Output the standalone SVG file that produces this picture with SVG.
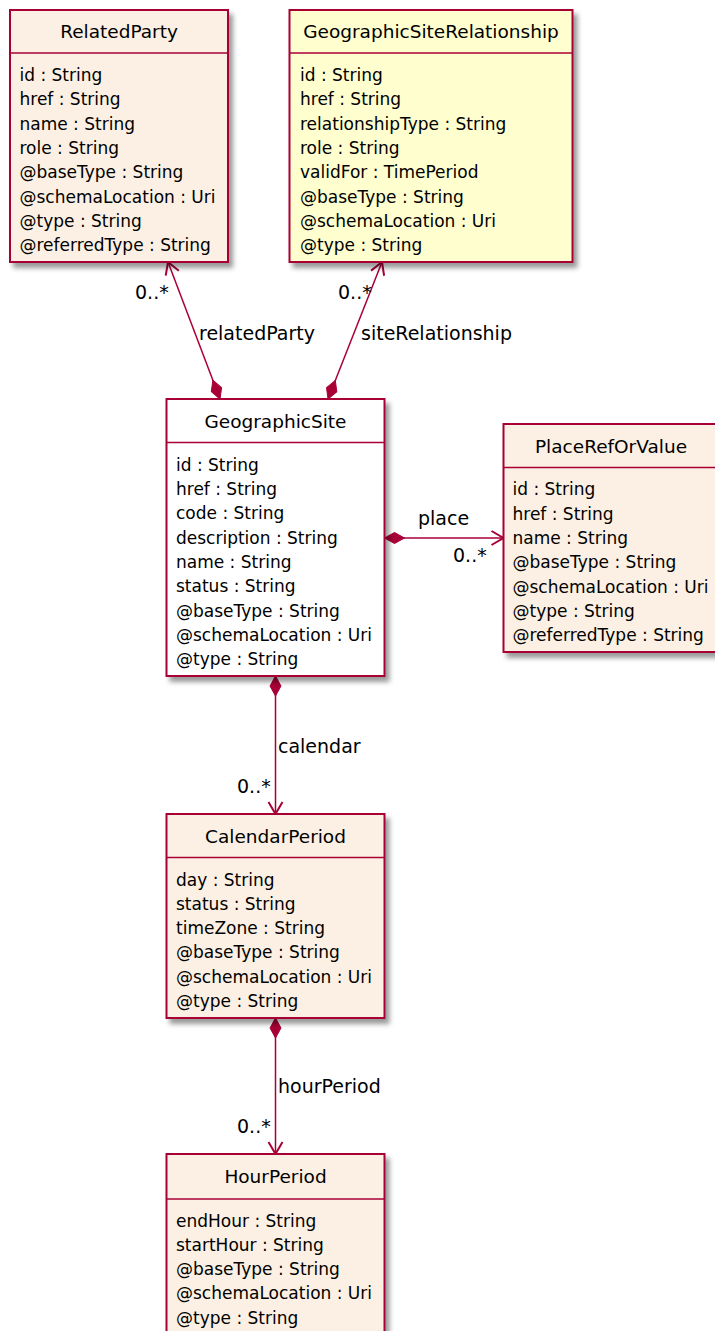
<svg xmlns="http://www.w3.org/2000/svg" width="715" height="1331" viewBox="0 0 715 1331">
<defs>
<filter id="sh" x="-10%" y="-10%" width="130%" height="130%">
<feDropShadow dx="4" dy="5" stdDeviation="2.5" flood-color="#000" flood-opacity="0.4"/>
</filter>
<marker id="dia" markerUnits="userSpaceOnUse" orient="auto" markerWidth="24" markerHeight="14" refX="0" refY="7" viewBox="0 0 24 14" overflow="visible">
<path d="M0,7 L10,1.5 L20,7 L10,12.5 Z" fill="#A80036" stroke="#A80036" stroke-width="1"/>
</marker>
<marker id="arr" markerUnits="userSpaceOnUse" orient="auto" markerWidth="20" markerHeight="20" refX="0" refY="0" viewBox="-15 -10 20 20" overflow="visible">
<path d="M-12,-7 L0,0 L-12,7" fill="none" stroke="#A80036" stroke-width="2"/>
</marker>
<style>
.box{stroke:#A80036;stroke-width:2;filter:url(#sh)}
.beige{fill:#FBF0E3}
.yellow{fill:#FEFECE}
.white{fill:#FFFFFF}
.div{stroke:#A80036;stroke-width:1.5}
.title{font-family:"DejaVu Sans",sans-serif;font-size:18.5px;fill:#000;text-anchor:middle}
.attr{font-family:"DejaVu Sans",sans-serif;font-size:17px;fill:#000}
.lbl{font-family:"DejaVu Sans",sans-serif;font-size:19px;fill:#000}
.con{stroke:#A80036;stroke-width:1.5;fill:none;marker-start:url(#dia);marker-end:url(#arr)}
</style>
</defs>

<g id="connectors">
<path class="con" d="M220,399 L168,262"/>
<path class="con" d="M328,399 L382,262"/>
<path class="con" d="M384.5,538 L503.5,538"/>
<path class="con" d="M275.5,676 L275.5,814"/>
<path class="con" d="M275.5,1018 L275.5,1154"/>
<text class="lbl" x="135" y="299">0..*</text>
<text class="lbl" x="199" y="340">relatedParty</text>
<text class="lbl" x="338" y="299">0..*</text>
<text class="lbl" x="361" y="340">siteRelationship</text>
<text class="lbl" x="418" y="525">place</text>
<text class="lbl" x="453" y="561.5">0..*</text>
<text class="lbl" x="278" y="752.5">calendar</text>
<text class="lbl" x="237" y="793">0..*</text>
<text class="lbl" x="278" y="1093">hourPeriod</text>
<text class="lbl" x="237" y="1133">0..*</text>
</g>

<g id="RelatedParty">
<rect class="box beige" x="10" y="10" width="218" height="252"/>
<line class="div" x1="10" y1="53" x2="228" y2="53"/>
<text class="title" x="119" y="38">RelatedParty</text>
<text class="attr" x="19.5" y="81">id : String</text>
<text class="attr" x="19.5" y="105.3">href : String</text>
<text class="attr" x="19.5" y="129.6">name : String</text>
<text class="attr" x="19.5" y="153.9">role : String</text>
<text class="attr" x="19.5" y="178.2">@baseType : String</text>
<text class="attr" x="19.5" y="202.5">@schemaLocation : Uri</text>
<text class="attr" x="19.5" y="226.8">@type : String</text>
<text class="attr" x="19.5" y="251.1">@referredType : String</text>
</g>

<g id="GeographicSiteRelationship">
<rect class="box yellow" x="289.5" y="10" width="283" height="252"/>
<line class="div" x1="289.5" y1="53" x2="572.5" y2="53"/>
<text class="title" x="431" y="38">GeographicSiteRelationship</text>
<text class="attr" x="300" y="81">id : String</text>
<text class="attr" x="300" y="105.3">href : String</text>
<text class="attr" x="300" y="129.6">relationshipType : String</text>
<text class="attr" x="300" y="153.9">role : String</text>
<text class="attr" x="300" y="178.2">validFor : TimePeriod</text>
<text class="attr" x="300" y="202.5">@baseType : String</text>
<text class="attr" x="300" y="226.8">@schemaLocation : Uri</text>
<text class="attr" x="300" y="251.1">@type : String</text>
</g>

<g id="GeographicSite">
<rect class="box white" x="166.5" y="399" width="218" height="277"/>
<line class="div" x1="166.5" y1="442.5" x2="384.5" y2="442.5"/>
<text class="title" x="275.5" y="428">GeographicSite</text>
<text class="attr" x="176" y="470.7">id : String</text>
<text class="attr" x="176" y="495">href : String</text>
<text class="attr" x="176" y="519.3">code : String</text>
<text class="attr" x="176" y="543.6">description : String</text>
<text class="attr" x="176" y="567.9">name : String</text>
<text class="attr" x="176" y="592.2">status : String</text>
<text class="attr" x="176" y="616.5">@baseType : String</text>
<text class="attr" x="176" y="640.8">@schemaLocation : Uri</text>
<text class="attr" x="176" y="665.1">@type : String</text>
</g>

<g id="PlaceRefOrValue">
<rect class="box beige" x="503.5" y="424" width="216" height="228"/>
<line class="div" x1="503.5" y1="467.5" x2="719.5" y2="467.5"/>
<text class="title" x="611" y="453">PlaceRefOrValue</text>
<text class="attr" x="512.5" y="495.3">id : String</text>
<text class="attr" x="512.5" y="519.6">href : String</text>
<text class="attr" x="512.5" y="543.9">name : String</text>
<text class="attr" x="512.5" y="568.2">@baseType : String</text>
<text class="attr" x="512.5" y="592.5">@schemaLocation : Uri</text>
<text class="attr" x="512.5" y="616.8">@type : String</text>
<text class="attr" x="512.5" y="641.1">@referredType : String</text>
</g>

<g id="CalendarPeriod">
<rect class="box beige" x="166.5" y="814" width="218" height="204"/>
<line class="div" x1="166.5" y1="857.5" x2="384.5" y2="857.5"/>
<text class="title" x="275.5" y="843">CalendarPeriod</text>
<text class="attr" x="176" y="885.5">day : String</text>
<text class="attr" x="176" y="909.8">status : String</text>
<text class="attr" x="176" y="934.1">timeZone : String</text>
<text class="attr" x="176" y="958.4">@baseType : String</text>
<text class="attr" x="176" y="982.7">@schemaLocation : Uri</text>
<text class="attr" x="176" y="1007">@type : String</text>
</g>

<g id="HourPeriod">
<rect class="box beige" x="166.5" y="1154" width="218" height="185"/>
<line class="div" x1="166.5" y1="1199" x2="384.5" y2="1199"/>
<text class="title" x="275.5" y="1183">HourPeriod</text>
<text class="attr" x="176" y="1226.5">endHour : String</text>
<text class="attr" x="176" y="1250.8">startHour : String</text>
<text class="attr" x="176" y="1275.1">@baseType : String</text>
<text class="attr" x="176" y="1299.4">@schemaLocation : Uri</text>
<text class="attr" x="176" y="1323.7">@type : String</text>
</g>
</svg>
